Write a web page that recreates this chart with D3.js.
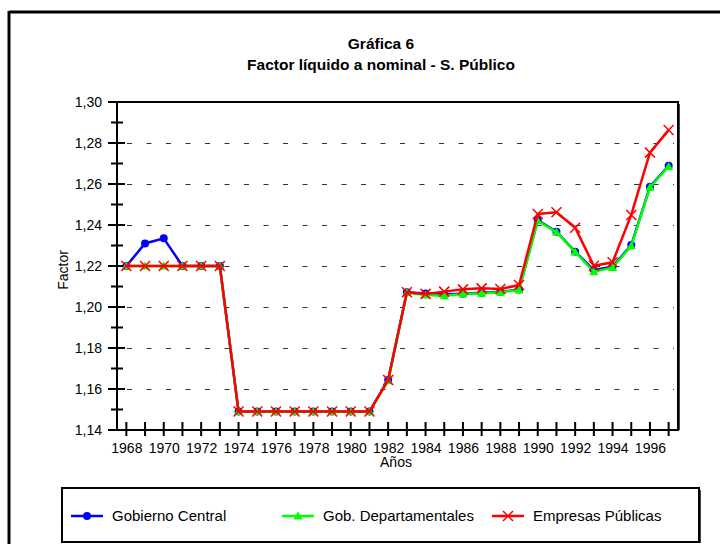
<!DOCTYPE html>
<html>
<head>
<meta charset="utf-8">
<script src="https://cdn.jsdelivr.net/npm/d3@7"></script>
<style>
  html, body { margin: 0; padding: 0; background: #fff; }
  svg { display: block; font-family: "Liberation Sans", Arial, sans-serif; }
</style>
</head>
<body>
<svg id="chart" width="720" height="544"></svg>
<script>
const years = d3.range(1968, 1998);
const yTicks = [1.14, 1.16, 1.18, 1.20, 1.22, 1.24, 1.26, 1.28, 1.30];
const gobiernoCentral = [1.220, 1.231, 1.2335, 1.220, 1.220, 1.220, 1.149, 1.149, 1.149, 1.149, 1.149, 1.149, 1.149, 1.149, 1.1644, 1.2072, 1.2066, 1.2062, 1.2065, 1.2069, 1.2074, 1.2085, 1.2424, 1.2367, 1.2270, 1.2180, 1.2197, 1.2302, 1.2587, 1.2689];
const gobDepartamentales = [1.220, 1.220, 1.220, 1.220, 1.220, 1.220, 1.149, 1.149, 1.149, 1.149, 1.149, 1.149, 1.149, 1.149, 1.164, 1.2070, 1.2058, 1.2055, 1.2063, 1.2067, 1.2072, 1.2083, 1.2420, 1.2365, 1.2268, 1.2172, 1.2192, 1.2298, 1.2584, 1.2685];
const empresasPublicas = [1.220, 1.220, 1.220, 1.220, 1.220, 1.220, 1.149, 1.149, 1.149, 1.149, 1.149, 1.149, 1.149, 1.149, 1.1644, 1.2072, 1.2064, 1.2075, 1.2086, 1.2091, 1.2088, 1.2107, 1.2454, 1.2462, 1.2387, 1.2201, 1.2218, 1.2449, 1.2753, 1.2863];

const seriesNames = ["Gobierno Central", "Gob. Departamentales", "Empresas Públicas"];
const seriesColors = ["#0000ff", "#00ff00", "#ff0000"];
const seriesShapes = ["circle", "triangle", "x"];
const seriesData = [gobiernoCentral, gobDepartamentales, empresasPublicas];

const svg = d3.select("#chart");
const L = 117, R = 678, T = 102, B = 430;

// outer frame (top + left)
svg.append("line").attr("x1", 9).attr("x2", 720).attr("y1", 12).attr("y2", 12).attr("stroke", "#000").attr("stroke-width", 3);
svg.append("line").attr("x1", 9).attr("x2", 9).attr("y1", 11).attr("y2", 544).attr("stroke", "#000").attr("stroke-width", 3);

// titles
svg.append("text").attr("x", 381).attr("y", 48.5).attr("text-anchor", "middle").attr("font-size", 15.5).attr("font-weight", "bold").text("Gráfica 6");
svg.append("text").attr("x", 381).attr("y", 69.5).attr("text-anchor", "middle").attr("font-size", 15.5).attr("font-weight", "bold").text("Factor líquido a nominal - S. Público");

const x = d3.scalePoint().domain(years).range([L, R]).padding(0.5);
const y = d3.scaleLinear().domain([1.14, 1.30]).range([B, T]);

// plot border (top & right) + shadow
svg.append("path").attr("d", `M${L},${T}H${R}V${B}`).attr("fill", "none").attr("stroke", "#000").attr("stroke-width", 2);
svg.append("line").attr("x1", R + 1.5).attr("x2", R + 1.5).attr("y1", T + 2).attr("y2", B).attr("stroke", "#444").attr("stroke-width", 1);

// grid lines
const grid = svg.append("g");
grid.selectAll("line").data(yTicks.filter(v => v > 1.14 && v < 1.30)).join("line")
  .attr("x1", L + 10).attr("x2", R - 4)
  .attr("y1", d => Math.round(y(d)) + 0.5).attr("y2", d => Math.round(y(d)) + 0.5)
  .attr("stroke", "#333").attr("stroke-width", 1).attr("stroke-dasharray", "5,14.5");

// y axis
const fmt = v => d3.format(".2f")(v).replace(".", ",");
const yAxis = d3.axisLeft(y).tickValues(yTicks).tickFormat(fmt).tickSize(0).tickPadding(15);
const gy = svg.append("g").attr("transform", `translate(${L},0)`).call(yAxis);
gy.select(".domain").remove();
gy.selectAll("text").attr("font-size", 14).attr("fill", "#000").attr("font-family", "Liberation Sans, Arial, sans-serif");
svg.append("line").attr("x1", L).attr("x2", L).attr("y1", T).attr("y2", B).attr("stroke", "#000").attr("stroke-width", 2);
svg.append("g").selectAll("line").data(yTicks).join("line")
  .attr("x1", L - 9).attr("x2", L + 8)
  .attr("y1", d => y(d)).attr("y2", d => y(d))
  .attr("stroke", "#000").attr("stroke-width", 2);
const minor = yTicks.slice(0, -1).map(v => v + 0.01);
svg.append("g").selectAll("line").data(minor).join("line")
  .attr("x1", L - 6).attr("x2", L + 6)
  .attr("y1", d => y(d)).attr("y2", d => y(d))
  .attr("stroke", "#000").attr("stroke-width", 2);

// x axis
const xAxis = d3.axisBottom(x).tickValues(years.filter(yr => (yr - 1968) % 2 === 0)).tickSize(0).tickPadding(13);
const gx = svg.append("g").attr("transform", `translate(0,${B})`).call(xAxis);
gx.select(".domain").remove();
gx.selectAll("text").attr("font-size", 14).attr("fill", "#000").attr("font-family", "Liberation Sans, Arial, sans-serif");
svg.append("line").attr("x1", L - 9).attr("x2", R + 1).attr("y1", B).attr("y2", B).attr("stroke", "#000").attr("stroke-width", 2);
svg.append("g").selectAll("line").data(years).join("line")
  .attr("x1", d => x(d)).attr("x2", d => x(d))
  .attr("y1", B - 8).attr("y2", B + 6)
  .attr("stroke", "#000").attr("stroke-width", 2);

// axis titles
svg.append("text").attr("x", 396).attr("y", 467).attr("text-anchor", "middle").attr("font-size", 14).text("Años");
svg.append("text").attr("transform", "translate(68,270) rotate(-90)").attr("text-anchor", "middle").attr("font-size", 14).text("Factor");

// markers
function drawMarker(g, shape, color, cx, cy, s) {
  if (shape === "circle") {
    g.append("circle").attr("cx", cx).attr("cy", cy).attr("r", s).attr("fill", color);
  } else if (shape === "triangle") {
    const h = s * 1.9;
    g.append("path").attr("d", `M${cx},${cy - h * 0.6}L${cx + s * 1.15},${cy + h * 0.45}L${cx - s * 1.15},${cy + h * 0.45}Z`).attr("fill", color);
  } else {
    g.append("path").attr("d", `M${cx - s},${cy - s}L${cx + s},${cy + s}M${cx - s},${cy + s}L${cx + s},${cy - s}`).attr("stroke", color).attr("stroke-width", 1.5).attr("fill", "none");
  }
}

const line = d3.line().x((d, i) => x(years[i])).y(d => y(d));
seriesData.forEach((data, si) => {
  const g = svg.append("g");
  g.append("path").datum(data).attr("d", line).attr("fill", "none").attr("stroke", seriesColors[si]).attr("stroke-width", 2.5);
  data.forEach((v, i) => drawMarker(g, seriesShapes[si], seriesColors[si], x(years[i]), y(v), si === 2 ? 5 : 4));
});

// legend
const lg = svg.append("g");
lg.append("rect").attr("x", 62).attr("y", 488).attr("width", 637).attr("height", 54).attr("fill", "#fff").attr("stroke", "#000").attr("stroke-width", 2);
lg.append("line").attr("x1", 700.5).attr("x2", 700.5).attr("y1", 490).attr("y2", 543).attr("stroke", "#444").attr("stroke-width", 1);
const legX = [71, 282, 492];
seriesNames.forEach((name, si) => {
  const lx = legX[si], ly = 516;
  lg.append("line").attr("x1", lx).attr("x2", lx + 32).attr("y1", ly).attr("y2", ly).attr("stroke", seriesColors[si]).attr("stroke-width", 2.5);
  drawMarker(lg, seriesShapes[si], seriesColors[si], lx + 16, ly, si === 2 ? 5 : 4);
  lg.append("text").attr("x", lx + 41).attr("y", ly + 5).attr("font-size", 15).text(name);
});
</script>
</body>
</html>
